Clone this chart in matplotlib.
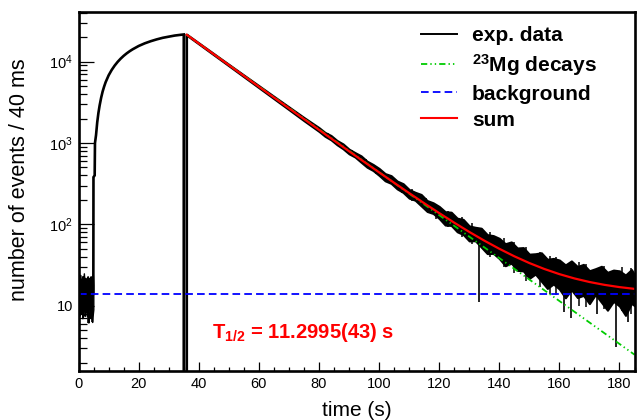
import numpy as np
import matplotlib
matplotlib.use('Agg')
import matplotlib.pyplot as plt
from matplotlib.lines import Line2D
from matplotlib.ticker import LogLocator, MultipleLocator, FuncFormatter, NullFormatter

plt.rcParams['font.family'] = ['Liberation Sans', 'DejaVu Sans']
plt.rcParams['mathtext.fontset'] = 'custom'
plt.rcParams['mathtext.rm'] = 'Liberation Sans'
plt.rcParams['mathtext.bf'] = 'Liberation Sans:bold'
plt.rcParams['mathtext.it'] = 'Liberation Sans:italic'
plt.rcParams['mathtext.default'] = 'regular'
plt.rcParams['lines.scale_dashes'] = False

# ---------------- data ----------------
# background before the beam (noise envelope, counts per 40 ms bin)
t_pre = [0.0, 0.25, 0.5, 0.75, 1.0, 1.25, 1.5, 1.75, 2.0, 2.25, 2.5, 2.75,
         3.0, 3.25, 3.5, 3.75, 4.0, 4.25, 4.5, 4.75, 4.9]
pre_lo = [9, 7.5, 10, 8, 10.5, 7, 9, 10, 7.5, 8.5, 10, 7.5,
          9, 6.2, 8, 10, 7, 9, 6.3, 8, 9]
pre_hi = [26, 20, 24, 21, 18.5, 23, 19.5, 25, 19, 22, 17.5, 21,
          23, 18, 22, 19.5, 23, 18.5, 21, 24, 18]

# implantation build-up (beam on)
t_build = [4.9, 4.95, 5.35, 5.45, 5.8, 6.2, 6.6, 7.0, 7.5, 8.0, 8.5, 9.0,
           10, 11, 12, 13, 14, 15, 16, 17, 18, 20, 22, 24, 26, 28, 30, 32, 34, 35]
n_build = [14, 380, 400, 1000, 1250, 1800, 2350, 2900, 3600, 4300, 4950, 5600,
           6800, 7900, 8950, 9950, 10900, 11800, 12650, 13450, 14200, 15600,
           16800, 17850, 18800, 19650, 20300, 20950, 21400, 21600]

# beam-off gap (empty bins)
t_gap = [35.0, 36.0]

# decay (noise envelope)
t_dec = [36, 40, 45, 50, 55, 60, 65, 70, 75, 80, 82, 84, 86, 88, 90, 92, 94, 96, 98,
         100, 102, 104, 106, 108, 110, 112, 114, 116, 118, 120, 122, 124, 126, 128,
         130, 132, 134, 136, 138, 140, 142, 144, 146, 148, 150, 152, 154, 156, 158,
         160, 162, 164, 166, 168, 170, 172, 174, 176, 178, 180, 182, 184, 185]
dec_lo = [21120, 16500, 12110, 8890, 6520, 4780, 3505, 2570, 1880, 1389, 1209, 1095,
          952, 850, 736, 672, 581, 504, 459, 400, 343, 319, 273, 247, 210, 198, 169,
          144, 136, 118, 98, 97, 81, 75, 62.5, 63, 52.5, 43.7, 44, 38, 31, 33.4, 27.2,
          26.8, 21.7, 24.5, 20, 16.3, 18.5, 16, 12.5, 15.7, 12.6, 13.4, 10.6, 13.7,
          11, 8.8, 11.3, 9.9, 7.6, 10.7, 10]
dec_hi = [21710, 17020, 12560, 9270, 6850, 5070, 3750, 2780, 2060, 1546, 1351, 1237,
          1074, 975, 840, 762, 696, 598, 545, 487, 421, 397, 341, 316, 268, 248, 233,
          196, 184, 166, 143, 141, 119, 115, 95.6, 92, 89.6, 74.7, 72.7, 67.3, 57.8,
          60.8, 51.2, 51.8, 43, 43.5, 44.7, 37.2, 38.1, 36.4, 31.7, 35.5, 30.3, 32.2,
          26.9, 28.5, 30.5, 25.7, 27.4, 26.8, 23.8, 27.8, 24]

# single-bin fluctuations (short excursions beyond the band)
fluct_t = [83, 87.5, 91, 95.5, 99, 103, 107.5, 111, 115.5, 119, 123, 127.5, 131,
           137, 141.5, 145, 149, 153.5, 157, 159, 166.5, 169, 175, 181, 184]
fluct_lo = [1120, 850, 690, 515, 420, 325, 245, 195, 148, 118, 92, 70, 57,
            40, 30, 25, 20, 17, 14, 13.5, 10, 9.5, 9, 8.5, 8]
fluct_hi = [1330, 1010, 830, 640, 525, 420, 325, 270, 212, 178, 148, 122, 104,
            80, 68, 60, 52, 46, 41, 40, 34, 33, 31, 30, 29]

# deep single-bin dips
spike_t = [3.2, 4.3, 133.4, 161.4, 163.8, 172.5, 178.8, 182.8]
spike_top = [9, 9, 62, 16, 15, 13, 12, 11]
spike_min = [6.1, 6.3, 11.2, 8.4, 7.1, 7.9, 3.1, 6.3]

# fit components
t_fit = [36, 40, 45, 50, 55, 60, 65, 70, 75, 80, 85, 90, 95, 100, 105, 110, 115,
         120, 125, 130, 135, 140, 145, 150, 155, 160, 165, 170, 175, 180, 185]
sum_fit = [21414, 16757, 12334, 9081, 6687, 4924, 3627, 2673, 1971, 1454, 1073, 793,
           587, 436, 324.5, 242.4, 182, 137.6, 104.9, 80.8, 63.1, 50.1, 40.5, 33.45,
           28.26, 24.44, 21.63, 19.56, 18.04, 16.92, 16.10]
t_mg = [36, 185]
mg_fit = [21400, 2.5]
bg_level = 13.8
t_range = [0, 185]

# ---------------- figure ----------------
W, H = 641, 420
fig = plt.figure(figsize=(W / 100, H / 100), dpi=100)
L, R, T, B = 78.6, 634.5, 12.3, 371.0
ax = fig.add_axes([L / W, 1 - B / H, (R - L) / W, (B - T) / H])

lw_data = 1.9
# pre-beam noise
ax.fill_between(t_pre, pre_lo, pre_hi, color='black', lw=1.0, edgecolor='black')
# build-up + gap
tb = list(t_build) + [t_gap[0], t_gap[0], t_gap[1], t_gap[1]]
nb = list(n_build) + [n_build[-1], 1e-3, 1e-3, dec_lo[0]]
ax.plot(tb, nb, color='black', lw=lw_data, solid_joinstyle='miter')
# decay noise band
ax.fill_between(t_dec, dec_lo, dec_hi, color='black', lw=1.5, edgecolor='black')
ax.vlines(fluct_t, fluct_lo, fluct_hi, color='black', lw=1.1)
ax.vlines(spike_t, spike_min, spike_top, color='black', lw=1.2)

# fit curves
mg_dash = (4.5, 2.2, 1.0, 2.2, 1.0, 2.2)
bg_dash = (5.5, 3.0)
ax.plot(t_mg, mg_fit, color='#00cc00', lw=1.3, dashes=mg_dash)
ax.plot(t_range, [bg_level, bg_level], color='#0000ff', lw=1.3, dashes=bg_dash)
ax.plot(t_fit, sum_fit, color='#ff0000', lw=1.6)

ax.set_yscale('log')
ax.set_xlim(0, 185)
ax.set_ylim(1.574, 40460)

ax.xaxis.set_major_locator(MultipleLocator(20))
ax.xaxis.set_minor_locator(MultipleLocator(5))
ax.yaxis.set_major_locator(LogLocator(base=10, numticks=10))
ax.yaxis.set_minor_locator(LogLocator(base=10, subs=np.arange(2, 10), numticks=20))
ax.yaxis.set_minor_formatter(NullFormatter())


def yfmt(v, pos):
    e = int(round(np.log10(v)))
    return '10' if e == 1 else r'$10^{%d}$' % e


ax.yaxis.set_major_formatter(FuncFormatter(yfmt))
ax.tick_params(axis='both', which='both', direction='in', top=False, right=False,
               labelsize=10.5, pad=4, width=0.9, color='black')
ax.tick_params(axis='y', which='major', length=10.8)
ax.tick_params(axis='y', which='minor', length=5.8)
ax.tick_params(axis='x', which='major', length=6.7)
ax.tick_params(axis='x', which='minor', length=3.2)
for s in ax.spines.values():
    s.set_linewidth(1.9)

fig.text(357 / W, 1 - 410 / H, 'time (s)', fontsize=15, ha='center', va='center')
fig.text(20 / W, 1 - 180 / H, 'number of events / 40 ms', fontsize=15.5,
         rotation=90, ha='center', va='center')

fig.text(212 / W, 1 - 338 / H, r'$\mathbf{T_{1/2}}$ = 11.2995(43) s', color='#ff0000',
         fontsize=14.5, fontweight='bold', ha='left', va='baseline')

handles = [Line2D([], [], color='black', lw=1.4),
           Line2D([], [], color='#00cc00', lw=1.3, dashes=mg_dash),
           Line2D([], [], color='#0000ff', lw=1.3, dashes=bg_dash),
           Line2D([], [], color='#ff0000', lw=1.5)]
labels = ['exp. data', r'$\mathbf{^{23}}$Mg decays', 'background', 'sum']
leg = ax.legend(handles, labels, loc='upper left',
                bbox_to_anchor=((421 - L) / (R - L), (B - 26) / (B - T)),
                frameon=False, borderpad=0, borderaxespad=0, handlelength=1.75,
                handletextpad=0.7, labelspacing=0.33,
                prop={'family': 'Liberation Sans', 'weight': 'bold', 'size': 15})

fig.savefig('out.png', dpi=100)
